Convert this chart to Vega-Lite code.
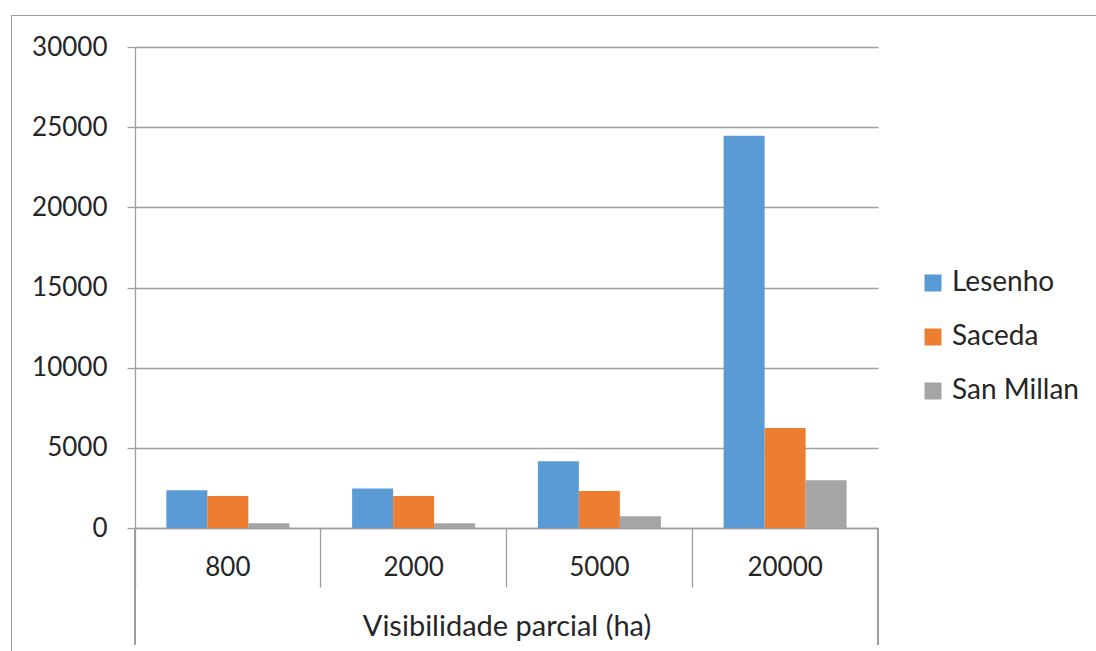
{
  "$schema": "https://vega.github.io/schema/vega-lite/v6.json",
  "autosize": "none",
  "width": 743,
  "height": 481,
  "padding": {"left": 135, "top": 47, "right": 218, "bottom": 123},
  "background": "white",
  "config": {
    "view": {"stroke": null},
    "font": "Lato",
    "axis": {"labelFont": "Lato", "titleFont": "Lato", "labelColor": "#262626", "titleColor": "#262626"}
  },
  "data": {"values": [
    {"cat": "800", "site": "Lesenho", "val": 2360},
    {"cat": "800", "site": "Saceda", "val": 1990},
    {"cat": "800", "site": "San Millan", "val": 300},
    {"cat": "2000", "site": "Lesenho", "val": 2470},
    {"cat": "2000", "site": "Saceda", "val": 1990},
    {"cat": "2000", "site": "San Millan", "val": 300},
    {"cat": "5000", "site": "Lesenho", "val": 4170},
    {"cat": "5000", "site": "Saceda", "val": 2300},
    {"cat": "5000", "site": "San Millan", "val": 730},
    {"cat": "20000", "site": "Lesenho", "val": 24460},
    {"cat": "20000", "site": "Saceda", "val": 6230},
    {"cat": "20000", "site": "San Millan", "val": 2980}
  ]},
  "layer": [
    {
      "mark": {"type": "bar"},
      "encoding": {
        "x": {
          "field": "cat", "type": "nominal", "sort": ["800", "2000", "5000", "20000"],
          "scale": {"paddingInner": 0, "paddingOuter": 0},
          "axis": {
            "title": "Visibilidade parcial (ha)", "titleFontSize": 29, "titleFontWeight": "normal",
            "titlePadding": 25,
            "labelAngle": 0, "labelFontSize": 26, "labelPadding": -33,
            "bandPosition": 0, "tickSize": 59, "tickColor": "#9e9e9e", "tickWidth": 1.3,
            "domainColor": "#9e9e9e", "domainWidth": 1.3
          }
        },
        "xOffset": {
          "field": "site", "type": "nominal",
          "scale": {"paddingInner": 0, "paddingOuter": 0.765}
        },
        "y": {
          "field": "val", "type": "quantitative",
          "scale": {"domain": [0, 30000], "nice": false},
          "axis": {
            "title": null, "values": [0, 5000, 10000, 15000, 20000, 25000, 30000], "format": "d",
            "labelFontSize": 26, "labelPadding": 20, "tickSize": 8,
            "tickColor": "#9e9e9e", "tickWidth": 1.3, "gridColor": "#9e9e9e", "gridWidth": 1.3,
            "domainColor": "#9e9e9e", "domainWidth": 1.3
          }
        },
        "color": {
          "field": "site", "type": "nominal",
          "scale": {"domain": ["Lesenho", "Saceda", "San Millan"], "range": ["#5B9BD5", "#ED7D31", "#A5A5A5"]},
          "legend": {
            "title": null, "orient": "none", "legendX": 784, "legendY": 222,
            "padding": 0, "symbolType": "square", "symbolSize": 289, "symbolStrokeWidth": 0,
            "labelFontSize": 28, "labelOffset": 5, "labelColor": "#262626", "rowPadding": 26
          }
        }
      }
    },
    {
      "mark": {"type": "rule", "color": "#9e9e9e", "strokeWidth": 1.3},
      "encoding": {
        "x": {"datum": "800", "bandPosition": 0},
        "y": {"datum": 0},
        "y2": {"datum": -7300}
      }
    },
    {
      "mark": {"type": "rule", "color": "#9e9e9e", "strokeWidth": 1.3},
      "encoding": {
        "x": {"datum": "20000", "bandPosition": 1},
        "y": {"datum": 0},
        "y2": {"datum": -7300}
      }
    },
    {
      "data": {"values": [{"frame": "chart area"}]},
      "mark": {"type": "point", "opacity": 0, "size": 0},
      "encoding": {
        "shape": {
          "field": "frame", "type": "nominal",
          "legend": {
            "title": null, "orient": "none", "legendX": -124, "legendY": -32,
            "padding": 800, "strokeColor": "#9e9e9e",
            "symbolOpacity": 0, "labelExpr": "''", "symbolSize": 0
          }
        }
      }
    }
  ]
}
